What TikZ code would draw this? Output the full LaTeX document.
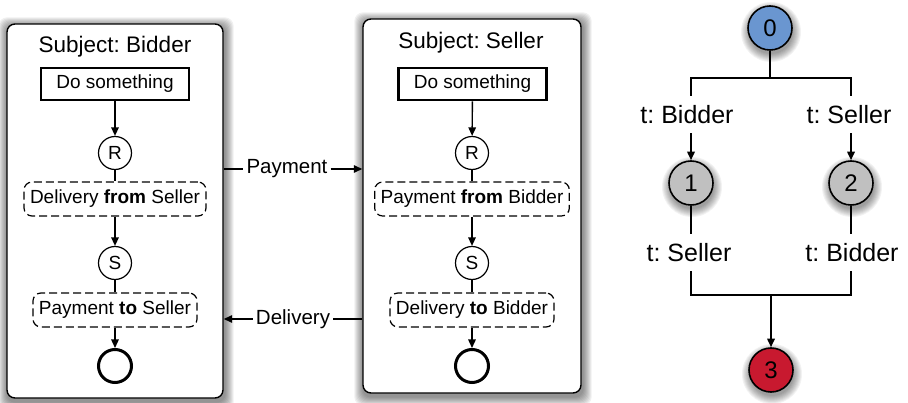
\documentclass[tikz,border=0pt]{standalone}
\usepackage{fontspec}
\setmainfont{Liberation Sans}
\usetikzlibrary{arrows.meta,calc,backgrounds}
\definecolor{nblue}{RGB}{106,150,208}
\definecolor{ngray}{RGB}{192,192,192}
\definecolor{nred}{RGB}{200,25,47}
\frenchspacing
\begin{document}
\begin{tikzpicture}[x=1pt,y=1pt,
  container/.style={draw,line width=1.4pt,rounded corners=8pt,fill=white,minimum height=374pt,inner sep=0pt},
  ttl/.style={font=\fontsize{22.5}{26}\selectfont},
  dobox/.style={draw,line width=2.6pt,minimum width=148pt,minimum height=32pt,inner sep=0pt,font=\fontsize{19}{22}\selectfont},
  state/.style={draw,circle,line width=1.2pt,minimum size=33pt,inner sep=0pt,font=\fontsize{19}{22}\selectfont},
  msgbox/.style={draw,dash pattern=on 8pt off 4pt,line width=1.2pt,rounded corners=8pt,minimum height=34pt,inner xsep=6pt,inner ysep=0pt,font=\fontsize{19}{22}\selectfont},
  endst/.style={draw,circle,line width=3pt,minimum size=33pt,inner sep=0pt},
  flow/.style={line width=1.4pt},
  gflow/.style={line width=1.7pt},
  tip/.style={-{Triangle[length=8.5pt,width=7.5pt]}},
  msglbl/.style={font=\fontsize{20.5}{24}\selectfont,inner sep=3pt},
  gnode/.style={draw,circle,line width=1.6pt,minimum size=44pt,inner sep=0pt,font=\fontsize{24}{28}\selectfont},
  glbl/.style={font=\fontsize{25}{30}\selectfont,anchor=base,text height=19pt,text depth=0pt,inner xsep=2pt,inner ysep=9pt},
]
\useasboundingbox (0,0) rectangle (908,-403);

% containers
\node[container,minimum width=216pt] (Lbox) at (115,-211) {};
\node[container,minimum width=218pt] (Rbox) at (472,-206) {};

% left process
\node[ttl] (Ltitle) at (115,-46.5) {Subject: Bidder};
\node[dobox] (Ldo) at (115,-84) {Do something};
\node[state] (LR) at (115,-153) {R};
\node[msgbox] (Lrecv) at (115,-199) {Delivery \textbf{from} Seller};
\node[state] (LS) at (115,-263) {S};
\node[msgbox] (Lsend) at (115,-310) {Payment \textbf{to} Seller};
\node[endst] (Lend) at (115,-366) {};
\draw[flow,tip] (Ldo) -- (LR);
\draw[flow] (LR) -- (Lrecv);
\draw[flow,tip] (Lrecv) -- (LS);
\draw[flow] (LS) -- (Lsend);
\draw[flow,tip] (Lsend) -- (Lend);

% right process
\node[ttl] (Rtitle) at (471,-43) {Subject: Seller};
\node[dobox] (Rdo) at (472.5,-84) {Do something};
\node[state] (RR) at (472,-153) {R};
\node[msgbox] (Rrecv) at (472,-199) {Payment \textbf{from} Bidder};
\node[state] (RS) at (472,-263) {S};
\node[msgbox] (Rsend) at (472,-310) {Delivery \textbf{to} Bidder};
\node[endst] (Rend) at (472,-366) {};
\draw[flow,tip] (Rdo) -- (RR);
\draw[flow] (RR) -- (Rrecv);
\draw[flow,tip] (Rrecv) -- (RS);
\draw[flow] (RS) -- (Rsend);
\draw[flow,tip] (Rsend) -- (Rend);

% messages
\node[msglbl] (pay) at (287,-169) {Payment};
\node[msglbl] (del) at (293,-319) {Delivery};
\draw[flow] (Lbox.east |- pay) -- (pay);
\draw[flow,tip] (pay) -- (Rbox.west |- pay);
\draw[flow] (Rbox.west |- del) -- (del);
\draw[flow,tip] (del) -- (Lbox.east |- del);

% graph
\node[gnode,fill=nblue] (g0) at (770,-28) {0};
\node[gnode,fill=ngray] (g1) at (691,-183) {1};
\node[gnode,fill=ngray] (g2) at (851,-183) {2};
\node[gnode,fill=nred] (g3) at (771,-370) {3};
\coordinate (j0) at (770,-78);
\coordinate (j1) at (771,-295);
\node[glbl] (l1) at (687,-124) {t: Bidder};
\node[glbl] (l2) at (849,-124) {t: Seller};
\node[glbl] (l3) at (689,-262) {t: Seller};
\node[glbl] (l4) at (852,-262) {t: Bidder};
\draw[gflow] (g0) -- (j0);
\draw[gflow] (j0) -| (g1 |- l1.north);
\draw[gflow] (j0) -| (g2 |- l2.north);
\draw[gflow,tip] (g1 |- l1.south) -- (g1);
\draw[gflow,tip] (g2 |- l2.south) -- (g2);
\draw[gflow] (g1) -- (g1 |- l3.north);
\draw[gflow] (g2) -- (g2 |- l4.north);
\draw[gflow] (g1 |- l3.south) |- (j1);
\draw[gflow] (g2 |- l4.south) |- (j1);
\draw[gflow,tip] (j1) -- (g3);

% soft shadows
\begin{scope}[on background layer]
  \foreach \n in {Lbox,Rbox} {
    \foreach \k in {1,...,9} {
      \fill[black,opacity=0.06,rounded corners=9pt]
        ($(\n.south west)+({-\k+1},{-\k-3})$) rectangle ($(\n.north east)+({\k+1},{\k-3})$);
    }
  }
  \foreach \n in {g0,g1,g2,g3} {
    \foreach \k in {1,...,9} {
      \fill[black,opacity=0.05] ($(\n.center)+(1,-4)$) circle[radius={(21+\k)*1pt}];
    }
  }
\end{scope}
\end{tikzpicture}
\end{document}
